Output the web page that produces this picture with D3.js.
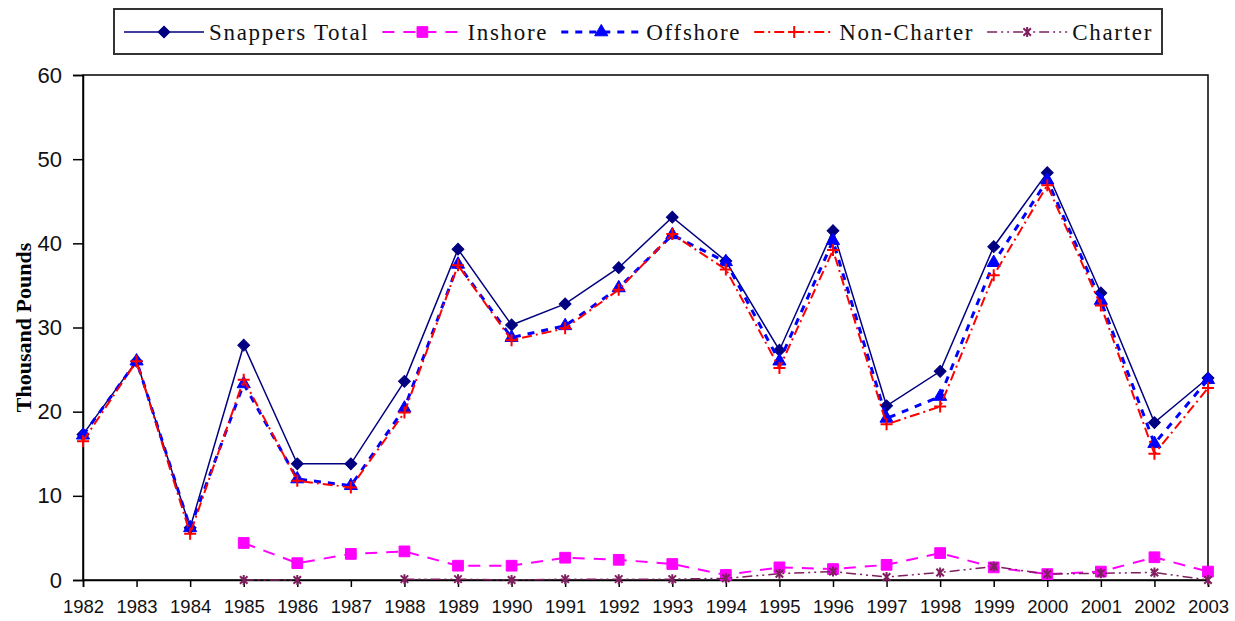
<!DOCTYPE html>
<html>
<head>
<meta charset="utf-8">
<script src="https://cdn.jsdelivr.net/npm/d3@7"></script>
<style>
  body { margin: 0; background: #fff; }
  svg { display: block; }
</style>
</head>
<body>
<svg width="1235" height="621"></svg>
<script>
// ---- data (thousand pounds) ----
var years = [1982, 1983, 1984, 1985, 1986, 1987, 1988, 1989, 1990, 1991, 1992,
             1993, 1994, 1995, 1996, 1997, 1998, 1999, 2000, 2001, 2002, 2003];

var snappersTotal = [17.3, 26.0, 6.2, 27.9, 13.8, 13.8, 23.6, 39.3, 30.3, 32.8, 37.1,
                     43.1, 37.9, 27.3, 41.5, 20.7, 24.8, 39.6, 48.4, 34.1, 18.7, 24.0];
var inshore = [null, null, null, 4.4, 2.0, 3.1, 3.4, 1.7, 1.7, 2.65, 2.4,
               1.9, 0.6, 1.5, 1.3, 1.8, 3.2, 1.5, 0.7, 1.0, 2.7, 1.0];
var offshore = [17.2, 26.0, 6.2, 23.3, 12.0, 11.2, 20.4, 37.5, 28.8, 30.2, 34.7,
                41.0, 37.8, 26.0, 40.3, 19.2, 21.8, 37.7, 47.5, 33.2, 16.2, 23.8];
var nonCharter = [16.5, 26.0, 5.5, 23.8, 11.8, 11.0, 19.9, 37.4, 28.5, 29.9, 34.5,
                  41.1, 36.9, 25.2, 39.2, 18.5, 20.6, 36.2, 46.9, 32.6, 15.0, 22.8];
var charter = [null, null, null, 0, 0, null, 0.1, 0.1, 0, 0.1, 0.1,
               0.1, 0.2, 0.75, 1.0, 0.35, 0.9, 1.6, 0.7, 0.8, 0.9, 0];

var seriesNames = ["Snappers Total", "Inshore", "Offshore", "Non-Charter", "Charter"];
var yTicks = [0, 10, 20, 30, 40, 50, 60];

var svg = d3.select("svg"),
    margin = { top: 75, right: 27, bottom: 41, left: 83 },
    width = +svg.attr("width") - margin.left - margin.right,
    height = +svg.attr("height") - margin.top - margin.bottom,
    g = svg.append("g").attr("transform", "translate(" + margin.left + "," + margin.top + ")");

var x = d3.scaleLinear().domain([years[0], years[years.length - 1]]).range([0, width]);
var y = d3.scaleLinear().domain([0, 60]).range([height, 0]);

// custom stroke markers (plus and star) so they look like the Excel ones
var plusType = {
  draw: function(ctx, size) {
    var r = Math.sqrt(size) / 2;
    ctx.moveTo(-r, 0); ctx.lineTo(r, 0);
    ctx.moveTo(0, -r); ctx.lineTo(0, r);
  }
};
var starType = {
  draw: function(ctx, size) {
    var r = Math.sqrt(size) / 2, d = r * 0.75;
    ctx.moveTo(0, -r); ctx.lineTo(0, r);
    ctx.moveTo(-d, -d); ctx.lineTo(d, d);
    ctx.moveTo(-d, d); ctx.lineTo(d, -d);
  }
};

var styles = [
  { values: snappersTotal, color: "#000080", width: 1.5, dash: null,
    symbol: d3.symbolSquare, size: 70, rotate: 45, filled: true },
  { values: inshore, color: "#FF00FF", width: 2, dash: "12,9",
    symbol: d3.symbolSquare, size: 115, rotate: 0, filled: true },
  { values: offshore, color: "#0000FF", width: 3, dash: "7,7",
    symbol: d3.symbolTriangle, size: 75, rotate: 0, filled: true },
  { values: nonCharter, color: "#FF0000", width: 2, dash: "10,4,2,4",
    symbol: plusType, size: 144, rotate: 0, filled: false },
  { values: charter, color: "#7f1f5f", width: 1.5, dash: "10,4,2,4,2,4",
    symbol: starType, size: 100, rotate: 0, filled: false }
];

/* ---------- plot frame ---------- */
g.append("rect")
    .attr("x", 0).attr("y", 0)
    .attr("width", width).attr("height", height)
    .attr("fill", "none")
    .attr("stroke", "#000")
    .attr("stroke-width", 1.5);

/* ---------- axes ---------- */
var xAxis = g.append("g")
    .attr("transform", "translate(0," + height + ")")
    .call(d3.axisBottom(x).tickValues(years).tickFormat(d3.format("d")).tickSize(7).tickPadding(13));
xAxis.select(".domain").attr("stroke-width", 1.5);
xAxis.selectAll(".tick line").attr("stroke-width", 1.5);
xAxis.selectAll("text")
    .attr("font-family", "'Liberation Sans', Arial, sans-serif")
    .attr("font-size", 18.5)
    .attr("fill", "#111");

var yAxis = g.append("g")
    .call(d3.axisLeft(y).tickValues(yTicks).tickSize(10).tickPadding(11));
yAxis.select(".domain").attr("stroke-width", 1.5);
yAxis.selectAll(".tick line").attr("stroke-width", 1.5);
yAxis.selectAll("text")
    .attr("font-family", "'Liberation Sans', Arial, sans-serif")
    .attr("font-size", 22)
    .attr("fill", "#111");

svg.append("text")
    .attr("transform", "translate(31," + (margin.top + height / 2) + ") rotate(-90)")
    .attr("text-anchor", "middle")
    .attr("font-family", "'Liberation Serif', 'Times New Roman', serif")
    .attr("font-weight", "bold")
    .attr("font-size", 22)
    .text("Thousand Pounds");

/* ---------- series ---------- */
styles.forEach(function(s) {
  var pts = years.map(function(yr, i) { return { year: yr, v: s.values[i] }; });
  var line = d3.line()
      .defined(function(d) { return d.v != null; })
      .x(function(d) { return x(d.year); })
      .y(function(d) { return y(d.v); });

  g.append("path")
      .datum(pts)
      .attr("d", line)
      .attr("fill", "none")
      .attr("stroke", s.color)
      .attr("stroke-width", s.width)
      .attr("stroke-dasharray", s.dash);

  g.append("g").selectAll("path")
      .data(pts.filter(function(d) { return d.v != null; }))
      .enter().append("path")
      .attr("transform", function(d) {
        return "translate(" + x(d.year) + "," + y(d.v) + ") rotate(" + s.rotate + ")";
      })
      .attr("d", d3.symbol().type(s.symbol).size(s.size))
      .attr("fill", s.filled ? s.color : "none")
      .attr("stroke", s.color)
      .attr("stroke-width", s.filled ? 1 : 2);
});

/* ---------- legend ---------- */
var legend = svg.append("g");
legend.append("rect")
    .attr("x", 114).attr("y", 9)
    .attr("width", 1048).attr("height", 45)
    .attr("fill", "#fff")
    .attr("stroke", "#333")
    .attr("stroke-width", 2);

var lx = 124;
seriesNames.forEach(function(name, i) {
  var s = styles[i];
  var item = legend.append("g");
  item.append("line")
      .attr("x1", lx).attr("x2", lx + 80)
      .attr("y1", 32).attr("y2", 32)
      .attr("stroke", s.color)
      .attr("stroke-width", s.width)
      .attr("stroke-dasharray", s.dash);
  item.append("path")
      .attr("transform", "translate(" + (lx + 40) + ",32) rotate(" + s.rotate + ")")
      .attr("d", d3.symbol().type(s.symbol).size(s.size))
      .attr("fill", s.filled ? s.color : "none")
      .attr("stroke", s.color)
      .attr("stroke-width", s.filled ? 1 : 2);
  var t = item.append("text")
      .attr("x", lx + 85)
      .attr("y", 40)
      .attr("font-family", "'Liberation Serif', 'Times New Roman', serif")
      .attr("font-size", 23)
      .attr("letter-spacing", 1.7)
      .attr("fill", "#111")
      .text(name);
  lx = lx + 85 + t.node().getComputedTextLength() + 13;
});
</script>
</body>
</html>
